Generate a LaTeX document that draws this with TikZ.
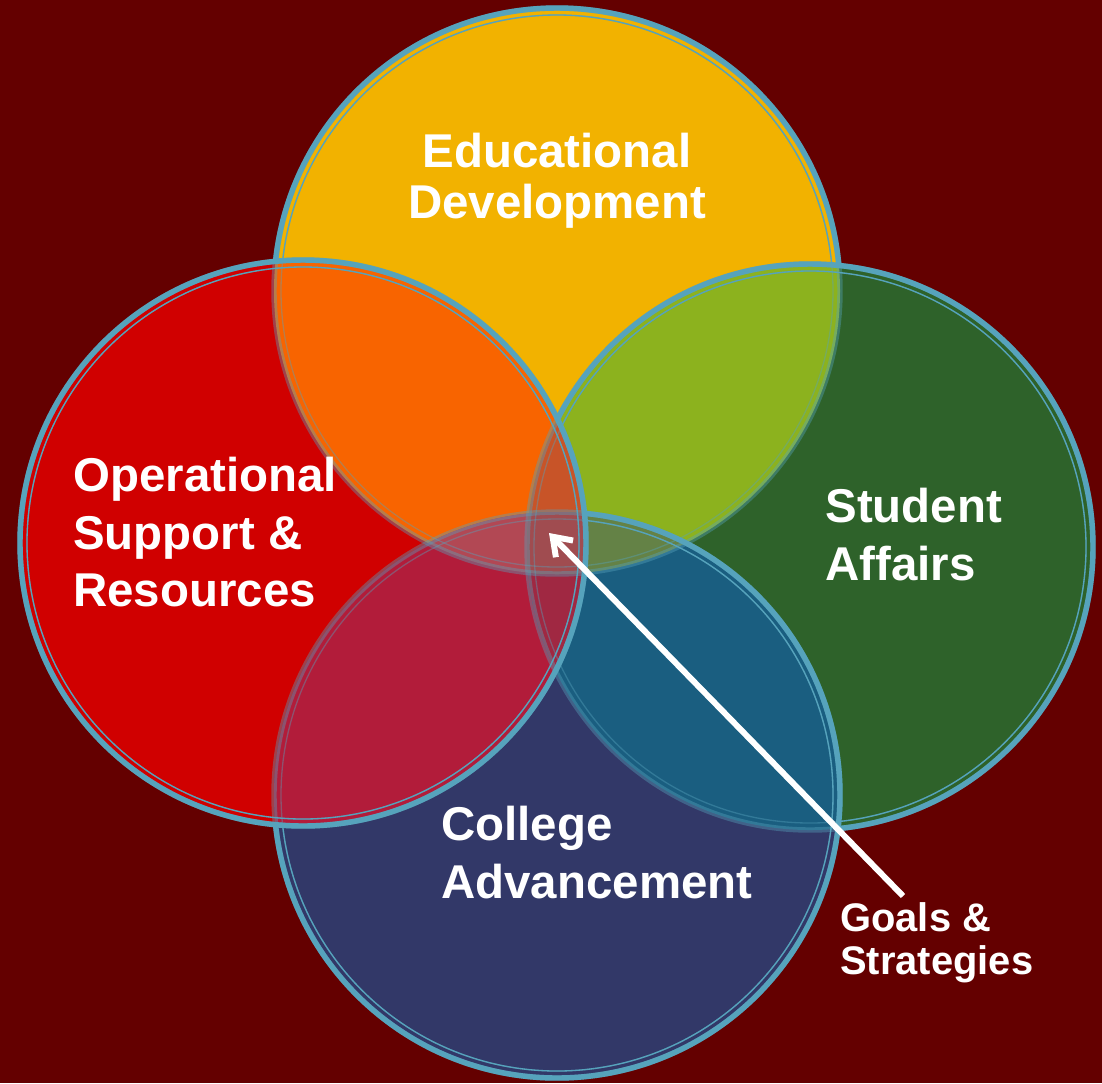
\documentclass[tikz,border=0pt]{standalone}
\usepackage{fontspec}
\setmainfont{Liberation Sans}
\usepackage{tikz}
\usetikzlibrary{arrows.meta}

\definecolor{backdrop}{RGB}{100,0,0}
\definecolor{rim}{RGB}{86,163,188}
\definecolor{eduyel}{RGB}{242,178,0}
\definecolor{opsred}{RGB}{208,0,0}
\definecolor{stugrn}{RGB}{46,98,42}
\definecolor{advblu}{RGB}{50,56,104}
\definecolor{eduops}{RGB}{248,100,0}
\definecolor{edustu}{RGB}{140,178,30}
\definecolor{opsadv}{RGB}{178,28,58}
\definecolor{stuadv}{RGB}{26,94,128}
\definecolor{opsstuedu}{RGB}{200,84,40}
\definecolor{opsstuadv}{RGB}{160,40,66}
\definecolor{eduadvops}{RGB}{178,72,84}
\definecolor{eduadvstu}{RGB}{100,130,70}
\definecolor{allfour}{RGB}{160,76,80}

\begin{document}
\begin{tikzpicture}
	[x=0.02cm,y=-0.02cm,
	rimband/.style={draw=rim,line width=3.1pt},
	rimline/.style={draw=rim,line width=0.75pt},
	area/.style={inner sep=0pt,text=white,align=left,font=\bfseries\fontsize{27}{32.6}\selectfont},
	note/.style={inner sep=0pt,text=white,align=left,font=\bfseries\fontsize{22.7}{24.6}\selectfont},
	edge/.style={-{Straight Barb[length=3.4mm,width=4.8mm]},white,line width=3.4pt}]
	\fill[backdrop] (0,0) rectangle (1102,1083);
	\useasboundingbox (0,0) rectangle (1102,1083);

	\coordinate (E) at (557,291);
	\coordinate (O) at (303,543);
	\coordinate (S) at (810,547);
	\coordinate (A) at (557,795);

	% fills, then the overlaps
	\foreach \c/\col in {E/eduyel,O/opsred,S/stugrn,A/advblu}
	\fill[\col] (\c) circle (283);
	\foreach \a/\b/\col in {E/O/eduops,E/S/edustu,O/A/opsadv,S/A/stuadv}
	{\begin{scope} \clip (\a) circle (283); \fill[\col] (\b) circle (283); \end{scope}}
	\foreach \a/\b/\c/\col in {O/S/E/opsstuedu,O/S/A/opsstuadv,E/A/O/eduadvops,E/A/S/eduadvstu}
	{\begin{scope} \clip (\a) circle (283); \clip (\b) circle (283); \fill[\col] (\c) circle (283); \end{scope}}
	\begin{scope}
		\clip (E) circle (283); \clip (O) circle (283); \clip (S) circle (283);
		\fill[allfour] (A) circle (283);
	\end{scope}

	% rims: faint inside, strong where on top
	\foreach \c in {E,O,S,A}
	{\draw[rimband,draw opacity=.4] (\c) circle (283); \draw[rimline,draw opacity=.4] (\c) circle (276);}
	\begin{scope}[even odd rule]
		\clip (-50,-50) rectangle (1150,1150) (O) circle (283);
		\draw[rimband] (A) circle (283); \draw[rimline] (A) circle (276);
		\begin{scope}[even odd rule]
			\clip (-50,-50) rectangle (1150,1150) (A) circle (283);
			\draw[rimband] (S) circle (283); \draw[rimline] (S) circle (276);
			\begin{scope}[even odd rule]
				\clip (-50,-50) rectangle (1150,1150) (S) circle (283);
				\draw[rimband] (E) circle (283); \draw[rimline] (E) circle (276);
			\end{scope}
		\end{scope}
	\end{scope}
	\draw[rimband] (O) circle (283); \draw[rimline] (O) circle (276);

	\node[area,align=center,anchor=north,font=\bfseries\fontsize{27}{28.7}\selectfont] (edu) at (557,133) {Educational\\Development};
	\node[area,anchor=north west] (ops) at (73,457) {Operational\\Support \&\\Resources};
	\node[area,anchor=north west] (stu) at (825,488) {Student\\Affairs};
	\node[area,anchor=north west] (adv) at (441,806) {College\\Advancement};
	\node[note,anchor=north west] (goals) at (840,902) {Goals \&\\Strategies};

	\coordinate (core) at (549,533);
	\coordinate (tail) at (903,896);
	\draw[edge] (tail) -- (core);

\end{tikzpicture}
\end{document}
